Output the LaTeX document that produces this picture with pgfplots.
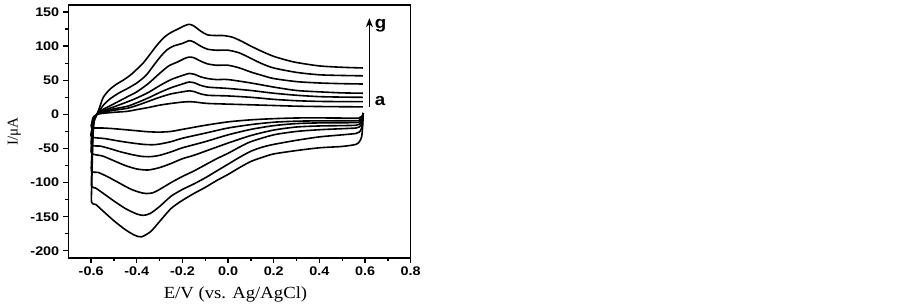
\documentclass[border=0pt]{standalone}
\usepackage{fontspec}
\setmainfont{Liberation Serif}
\newfontfamily\arialf{Liberation Sans}
\usepackage{pgfplots}
\pgfplotsset{compat=1.18}
\usetikzlibrary{arrows.meta}
\begin{document}
\begin{tikzpicture}
\useasboundingbox (0,0) rectangle (903pt,307pt);
\begin{axis}[
  at={(68.3pt,49pt)}, anchor=south west,
  scale only axis, width=342.4pt, height=253pt,
  xmin=-0.7, xmax=0.8, ymin=-210.5, ymax=160.3,
  xtick={-0.6,-0.4,-0.2,0,0.2,0.4,0.6,0.8},
  ytick={-200,-150,-100,-50,0,50,100,150},
  minor tick num=1,
  tick pos=left, tick align=outside,
  major tick length=5pt, minor tick length=3pt,
  every tick/.style={line width=1.3pt, black},
  axis line style={line width=1.5pt},
  /pgf/number format/assume math mode=true,
  xticklabel style={/pgf/number format/.cd, fixed, fixed zerofill, precision=1},
  yticklabel style={/pgf/number format/.cd, fixed},
  tick label style={font=\arialf\bfseries\fontsize{12.5}{14}\selectfont, xscale=1.15},
  every axis x label/.style={at={(rel axis cs:0.5,0)}, xshift=-4pt, yshift=-36pt, anchor=center},
  every axis y label/.style={at={(rel axis cs:0,0.5)}, xshift=-54pt, rotate=90, anchor=center},
  xlabel={\fontsize{17}{19}\selectfont E/V (vs. Ag/AgCl)},
  ylabel={\fontsize{15}{17}\selectfont I/μA},
  xlabel style={xscale=1.1},
  clip=false,
]
\pgfplotsset{cv/.style={black, line width=1.6pt, line join=round, smooth, tension=0.45}}
% g
\addplot[cv] coordinates {(0.592,2) (0.59,-15) (0.585,-33) (0.575,-40) (0.56,-44) (0.5,-47) (0.4,-49) (0.3,-53) (0.2,-58) (0.15,-63) (0.1,-69) (0.05,-78) (0.0,-88) (-0.05,-97) (-0.1,-107) (-0.15,-116) (-0.2,-126) (-0.25,-138) (-0.3,-157) (-0.34,-172) (-0.38,-179.5) (-0.41,-177) (-0.45,-169) (-0.5,-156) (-0.55,-141) (-0.58,-132) (-0.598,-129) (-0.597,-100) (-0.593,-40) (-0.588,-12) (-0.58,-4) (-0.575,0) (-0.565,8) (-0.555,18) (-0.545,26) (-0.52,36) (-0.49,44) (-0.46,50) (-0.43,57) (-0.4,66) (-0.37,76) (-0.34,89) (-0.31,102) (-0.28,113) (-0.25,120) (-0.22,125) (-0.19,130) (-0.17,132) (-0.15,129.5) (-0.12,122) (-0.09,116.5) (-0.05,115.5) (-0.02,115.5) (0.02,113) (0.06,107) (0.1,100) (0.15,92) (0.2,85) (0.25,80) (0.3,76) (0.4,71) (0.5,69) (0.59,68)};
% f
\addplot[cv] coordinates {(0.592,2) (0.59,-8) (0.585,-20) (0.575,-26) (0.56,-28) (0.5,-30) (0.4,-33) (0.3,-38) (0.2,-44) (0.15,-48) (0.1,-54) (0.05,-63) (0.0,-73) (-0.05,-83) (-0.1,-93) (-0.15,-102) (-0.2,-110) (-0.25,-120) (-0.3,-135) (-0.34,-145) (-0.37,-148) (-0.4,-146) (-0.45,-138) (-0.5,-127) (-0.55,-115) (-0.58,-108) (-0.598,-105) (-0.597,-80) (-0.593,-35) (-0.588,-11) (-0.58,-4) (-0.575,0) (-0.56,7) (-0.545,14) (-0.52,22) (-0.48,31) (-0.44,38) (-0.4,46) (-0.36,57) (-0.33,70) (-0.3,83) (-0.27,94) (-0.24,100) (-0.2,104) (-0.17,108) (-0.15,106) (-0.12,100) (-0.09,95.5) (-0.05,94) (0.0,94) (0.05,90) (0.1,82) (0.15,74) (0.2,68) (0.3,61.5) (0.4,58) (0.5,57) (0.59,56.5)};
% e
\addplot[cv] coordinates {(0.592,2) (0.59,-6) (0.585,-14) (0.575,-18.5) (0.56,-20) (0.5,-21) (0.4,-22.5) (0.3,-25) (0.2,-30) (0.1,-40) (0.05,-48) (0.0,-57) (-0.05,-65) (-0.1,-74) (-0.15,-83) (-0.2,-91) (-0.25,-100) (-0.3,-110) (-0.33,-115) (-0.36,-116) (-0.39,-114) (-0.43,-109) (-0.48,-100) (-0.53,-91) (-0.57,-85) (-0.598,-83) (-0.597,-60) (-0.593,-25) (-0.588,-9) (-0.58,-3) (-0.575,0) (-0.555,6) (-0.52,12) (-0.48,19) (-0.44,26) (-0.4,33) (-0.35,45) (-0.3,60) (-0.26,71) (-0.22,77) (-0.19,82) (-0.17,84) (-0.15,83) (-0.12,78) (-0.09,74) (-0.05,72) (0.0,72) (0.05,68) (0.1,62) (0.15,57) (0.2,52.5) (0.3,48) (0.4,46) (0.5,45) (0.59,44.5)};
% d
\addplot[cv] coordinates {(0.592,2) (0.59,-4) (0.585,-10) (0.575,-14.5) (0.56,-16) (0.5,-16.5) (0.4,-17) (0.3,-18.5) (0.2,-23) (0.1,-31) (0.0,-42) (-0.05,-48) (-0.1,-54) (-0.15,-60) (-0.2,-65) (-0.25,-72) (-0.3,-78) (-0.35,-81.5) (-0.4,-80) (-0.45,-75) (-0.5,-68) (-0.55,-61) (-0.598,-57) (-0.597,-40) (-0.593,-18) (-0.588,-7) (-0.58,-2.5) (-0.575,0) (-0.55,5) (-0.5,11) (-0.44,18.5) (-0.4,24) (-0.35,32) (-0.3,42) (-0.25,51) (-0.2,57) (-0.17,60) (-0.15,59) (-0.12,55) (-0.09,52.5) (-0.05,51) (0.0,51) (0.1,46) (0.2,40) (0.3,35) (0.4,33) (0.5,31.5) (0.59,31)};
% c
\addplot[cv] coordinates {(0.592,2) (0.59,-3) (0.585,-7.5) (0.575,-11) (0.56,-12) (0.5,-12.3) (0.4,-12.5) (0.3,-13.5) (0.2,-16.5) (0.1,-22) (0.0,-30) (-0.1,-40) (-0.2,-49) (-0.25,-55) (-0.3,-60) (-0.34,-62) (-0.38,-61.5) (-0.42,-59) (-0.47,-55) (-0.52,-50) (-0.56,-46.5) (-0.598,-45) (-0.597,-30) (-0.593,-14) (-0.588,-6) (-0.58,-2) (-0.575,0) (-0.55,4) (-0.5,8) (-0.44,12) (-0.4,17) (-0.35,24) (-0.3,32) (-0.25,39) (-0.2,44.5) (-0.17,47.5) (-0.15,46.5) (-0.12,42.5) (-0.09,40) (-0.05,39) (0.0,38) (0.1,35) (0.2,31) (0.3,28) (0.4,26) (0.5,25.3) (0.59,25)};
% b
\addplot[cv] coordinates {(0.592,2) (0.59,-2) (0.585,-5.5) (0.575,-8.5) (0.56,-9.3) (0.4,-9.5) (0.3,-10) (0.2,-11.5) (0.1,-15) (0.0,-20) (-0.1,-27.5) (-0.2,-35) (-0.25,-40) (-0.3,-43.5) (-0.33,-44.5) (-0.37,-44) (-0.42,-42) (-0.48,-39) (-0.54,-35.5) (-0.598,-33) (-0.597,-22) (-0.593,-10) (-0.588,-4.5) (-0.58,-1.5) (-0.575,0) (-0.55,3) (-0.5,6) (-0.44,9) (-0.4,13) (-0.35,19) (-0.3,25) (-0.25,30) (-0.2,33) (-0.17,34.5) (-0.15,33.5) (-0.12,30) (-0.09,28) (-0.05,27.5) (0.0,27) (0.1,25) (0.2,22) (0.3,20) (0.4,19) (0.5,18.7) (0.59,18.6)};
% a
\addplot[cv] coordinates {(0.592,2) (0.59,-1) (0.585,-3) (0.575,-5) (0.56,-5.5) (0.4,-5.2) (0.3,-5.3) (0.2,-6.3) (0.1,-8) (0.0,-11) (-0.1,-16) (-0.2,-22) (-0.25,-25) (-0.3,-26) (-0.35,-25.5) (-0.4,-24) (-0.5,-21) (-0.55,-20) (-0.598,-19.5) (-0.597,-13) (-0.593,-6) (-0.588,-3) (-0.58,-1) (-0.575,0) (-0.55,1.5) (-0.5,3) (-0.44,4.5) (-0.4,7) (-0.35,10) (-0.3,13.5) (-0.25,16) (-0.2,18) (-0.17,18.6) (-0.15,18.3) (-0.12,17) (-0.09,16) (-0.05,15.5) (0.0,15) (0.1,14) (0.2,13) (0.3,12) (0.4,11.5) (0.5,11.2) (0.59,11)};
\draw[line width=1.5pt, -{Stealth[length=9pt,width=7pt]}] (axis cs:0.619,11) -- (axis cs:0.619,141);
\node[anchor=base west, font=\arialf\bfseries\fontsize{17}{19}\selectfont, xscale=1.1, inner sep=0pt] at (axis cs:0.642,126) {g};
\node[anchor=base west, font=\arialf\bfseries\fontsize{17}{19}\selectfont, xscale=1.1, inner sep=0pt] at (axis cs:0.642,13.5) {a};
\end{axis}
\end{tikzpicture}
\end{document}
